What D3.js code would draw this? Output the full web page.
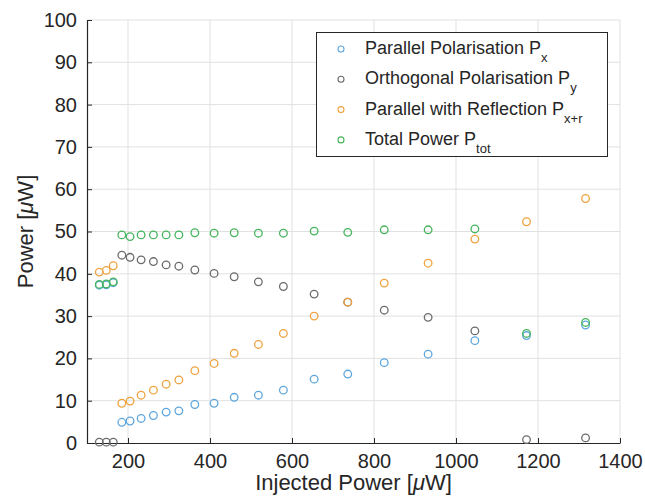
<!DOCTYPE html>
<html>
<head>
<meta charset="utf-8">
<title>Power vs Injected Power</title>
<style>
	body { margin: 0; background: #fff; }
	svg { display: block; font-family: "Liberation Sans", Arial, Helvetica, sans-serif; }
	.axis path, .axis line { stroke: #262626; }
	.axis text { fill: #262626; font-size: 20px; }
	.grid line { stroke: #e1e1e1; stroke-width: 1; }
	.label { fill: #262626; font-size: 22px; }
	.legend text { fill: #262626; font-size: 18px; }
</style>
</head>
<body>
<script src="https://cdnjs.cloudflare.com/ajax/libs/d3/7.8.5/d3.min.js"></script>
<script>
	// injected power [uW]
	var injected = [130, 147, 164, 185, 205, 232, 262, 293, 324, 363, 410, 459, 518, 579, 654, 736, 825, 932, 1046, 1172, 1316];
	var pX   = [37.3, 37.4, 37.9, 4.9, 5.2, 5.8, 6.5, 7.3, 7.6, 9.1, 9.4, 10.8, 11.3, 12.5, 15.1, 16.3, 19.0, 21.0, 24.2, 25.4, 27.9];
	var pY   = [0.2, 0.2, 0.2, 44.4, 43.9, 43.3, 42.9, 42.1, 41.8, 40.9, 40.1, 39.3, 38.1, 37.0, 35.2, 33.3, 31.4, 29.7, 26.5, 0.8, 1.2];
	var pXR  = [40.4, 40.8, 41.9, 9.4, 9.9, 11.3, 12.5, 13.9, 14.9, 17.1, 18.8, 21.2, 23.3, 25.9, 30.0, 33.3, 37.8, 42.5, 48.2, 52.3, 57.8];
	var pTot = [37.5, 37.6, 38.1, 49.2, 48.8, 49.2, 49.2, 49.2, 49.2, 49.7, 49.6, 49.7, 49.6, 49.6, 50.1, 49.8, 50.4, 50.4, 50.6, 25.9, 28.5];

	var seriesNames = ["Parallel Polarisation P", "Orthogonal Polarisation P", "Parallel with Reflection P", "Total Power P"];
	var seriesSubs  = ["x", "y", "x+r", "tot"];
	var seriesColors = ["#5ea6de", "#6b6b6b", "#efa23f", "#45b45c"];
	var seriesValues = [pX, pY, pXR, pTot];

	var xTicks = [200, 400, 600, 800, 1000, 1200, 1400];
	var yTicks = [0, 10, 20, 30, 40, 50, 60, 70, 80, 90, 100];

	var width = 645, height = 497;

	var x = d3.scaleLinear().domain([100, 1400]).range([87, 620]);
	var y = d3.scaleLinear().domain([0, 100]).range([443, 20]);

	var svg = d3.select("body").append("svg")
		.attr("width", width).attr("height", height);

	// grid
	var grid = svg.append("g").attr("class", "grid");
	grid.selectAll("line.v").data(xTicks).enter().append("line")
		.attr("class", "v")
		.attr("x1", function(d) { return x(d); }).attr("x2", function(d) { return x(d); })
		.attr("y1", y(0)).attr("y2", y(100));
	grid.selectAll("line.h").data(yTicks.slice(1)).enter().append("line")
		.attr("class", "h")
		.attr("x1", x(100)).attr("x2", x(1400))
		.attr("y1", function(d) { return y(d); }).attr("y2", function(d) { return y(d); });

	// axes, ticks pointing inward
	var xAxis = d3.axisBottom(x).tickValues(xTicks).tickFormat(d3.format("d"))
		.tickSizeInner(-5).tickSizeOuter(0).tickPadding(11);
	var yAxis = d3.axisLeft(y).tickValues(yTicks).tickFormat(d3.format("d"))
		.tickSizeInner(-5).tickSizeOuter(0).tickPadding(10);

	svg.append("g").attr("class", "x axis")
		.attr("transform", "translate(0," + y(0) + ")")
		.call(xAxis);
	svg.append("g").attr("class", "y axis")
		.attr("transform", "translate(" + x(100) + ",0)")
		.call(yAxis);
	svg.selectAll(".axis path.domain").attr("stroke-width", 1.2);

	// points
	seriesValues.forEach(function(vals, i) {
		svg.append("g").selectAll("circle").data(vals).enter().append("circle")
			.attr("cx", function(d, j) { return x(injected[j]); })
			.attr("cy", function(d) { return y(d); })
			.attr("r", 3.8)
			.attr("fill", "none")
			.attr("stroke", seriesColors[i])
			.attr("stroke-width", 1.3);
	});

	// axis labels
	var xl = svg.append("text").attr("class", "label")
		.attr("x", (x(100) + x(1400)) / 2).attr("y", 490)
		.attr("text-anchor", "middle");
	xl.append("tspan").text("Injected Power [");
	xl.append("tspan").attr("font-style", "italic").text("μ");
	xl.append("tspan").text("W]");

	var yl = svg.append("text").attr("class", "label")
		.attr("transform", "translate(33," + (y(0) + y(100)) / 2 + ") rotate(-90)")
		.attr("text-anchor", "middle");
	yl.append("tspan").text("Power [");
	yl.append("tspan").attr("font-style", "italic").text("μ");
	yl.append("tspan").text("W]");

	// legend
	var legend = svg.append("g").attr("class", "legend");
	legend.append("rect")
		.attr("x", 316.5).attr("y", 32.5).attr("width", 291).attr("height", 124)
		.attr("fill", "#fff").attr("stroke", "#262626").attr("stroke-width", 1);

	var rows = legend.selectAll("g.row").data(seriesNames).enter().append("g")
		.attr("class", "row")
		.attr("transform", function(d, i) { return "translate(0," + (49 + i * 30.3) + ")"; });
	rows.append("circle")
		.attr("cx", 341).attr("cy", 0).attr("r", 3)
		.attr("fill", "none")
		.attr("stroke", function(d, i) { return seriesColors[i]; })
		.attr("stroke-width", 1.1);
	var lt = rows.append("text").attr("x", 365).attr("y", 5);
	lt.append("tspan").text(function(d) { return d; });
	lt.append("tspan").attr("dy", 8).attr("font-size", "13px")
		.text(function(d, i) { return seriesSubs[i]; });
</script>
</body>
</html>
